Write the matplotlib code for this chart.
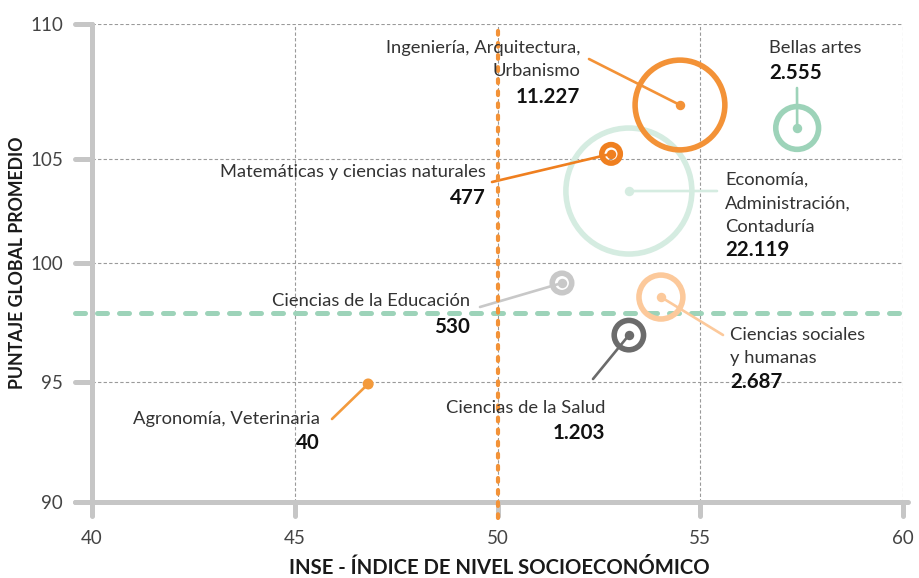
import numpy as np
import matplotlib
matplotlib.use("Agg")
import matplotlib.pyplot as plt

# ---------------- data ----------------
categories = [
    "Ingeniería, Arquitectura,\nUrbanismo",
    "Bellas artes",
    "Economía,\nAdministración,\nContaduría",
    "Matemáticas y ciencias naturales",
    "Ciencias de la Educación",
    "Ciencias sociales\ny humanas",
    "Ciencias de la Salud",
    "Agronomía, Veterinaria",
]
inse = [54.5, 57.39, 53.24, 52.8, 51.59, 54.03, 53.24, 46.81]
puntaje = [107.0, 106.15, 103.46, 105.19, 99.16, 98.57, 96.97, 94.92]
graduados = [11227, 2555, 22119, 477, 530, 2687, 1203, 40]
colors = ["#f39237", "#9dd3b9", "#d5ece1", "#ef7f1f", "#c8c8c8", "#fcc99b", "#6b6b6b", "#f39a3c"]

ref_inse = 50.0
ref_puntaje = 97.9

x_ticks = [40, 45, 50, 55, 60]
y_ticks = [90, 95, 100, 105, 110]

# ---------------- layout ----------------
W, H = 919, 578
fig = plt.figure(figsize=(W / 100, H / 100), dpi=100)
ax = fig.add_axes([92 / W, (H - 502) / H, (903 - 92) / W, (502 - 24) / H])

# piecewise-linear vertical scale (as in the original graphic)
y_pos = [0, 120, 239, 343, 478]


def fwd(v):
    return np.interp(np.asarray(v, dtype=float), y_ticks, y_pos)


def inv(p):
    return np.interp(np.asarray(p, dtype=float), y_pos, y_ticks)


ax.set_yscale("function", functions=(fwd, inv))
ax.set_xlim(40, 60)
ax.set_ylim(90, 110)

for s in ax.spines.values():
    s.set_visible(False)

ax.set_xticks(x_ticks)
ax.set_yticks(y_ticks)
ax.set_xticklabels([str(t) for t in x_ticks])
ax.set_yticklabels([str(t) for t in y_ticks])
ax.yaxis.set_minor_locator(matplotlib.ticker.NullLocator())
ax.tick_params(axis="both", length=0, labelsize=13.5, labelcolor="#444444")
ax.tick_params(axis="y", pad=21)
ax.tick_params(axis="x", pad=20)
for lab in ax.get_xticklabels() + ax.get_yticklabels():
    lab.set_fontfamily("Lato")

ax.grid(True, color="#9a9a9a", linestyle=(0, (3, 2)), linewidth=0.8, zorder=0)
ax.set_axisbelow(True)

gray = "#c6c6c6"
lwax = 3.6
ytr = ax.get_yaxis_transform()
xtr = ax.get_xaxis_transform()
# axes lines
ax.plot([0, 0], [-0.028, 1.0], transform=ax.transAxes, color=gray, lw=lwax,
        solid_capstyle="round", clip_on=False, zorder=3)
ax.plot([-0.021, 1.006], [0, 0], transform=ax.transAxes, color=gray, lw=lwax,
        solid_capstyle="round", clip_on=False, zorder=3)
for t in y_ticks:
    ax.plot([-0.021, 0], [t, t], transform=ytr, color=gray, lw=lwax,
            solid_capstyle="round", clip_on=False, zorder=3)
for t in x_ticks:
    ax.plot([t, t], [-0.03, 0], transform=xtr, color=gray, lw=lwax,
            solid_capstyle="round", clip_on=False, zorder=3)

# reference lines
ax.plot([-0.021, 1.0], [ref_puntaje, ref_puntaje], transform=ytr, color="#9dd3b9",
        lw=3.6, linestyle=(0, (2.0, 2.4)), dash_capstyle="round", clip_on=False, zorder=2)

# bubbles
k = 0.372  # area in pt^2 per graduate
order = [2, 0, 1, 3, 4, 5, 6, 7]
for i in order:
    ax.scatter([inse[i]], [puntaje[i]], s=graduados[i] * k, facecolors="none",
               edgecolors=colors[i], linewidths=4.0, zorder=4, clip_on=False)
    ax.plot([inse[i]], [puntaje[i]], "o", color=colors[i], markersize=6.8,
            markeredgewidth=0, zorder=5, clip_on=False)

# leader lines (figure pixel end points)
leader_end = [(589, 59), (797, 88), (717, 191), (492, 182), (480, 307),
              (723, 335), (593, 379), (332, 419)]
for i, (px, py) in enumerate(leader_end):
    ax.annotate("", xy=(inse[i], puntaje[i]), xycoords="data",
                xytext=(px, H - py), textcoords="figure pixels",
                arrowprops=dict(arrowstyle="-", color=colors[i], lw=1.9,
                                shrinkA=0, shrinkB=0), zorder=5)

# labels: (x px, first line y px, ha, number y px)
label_layout = [
    (580, 48, "right", 97),
    (769, 48, "left", 73),
    (725, 180, "left", 250),
    (486, 172, "right", 198),
    (470, 301, "right", 327),
    (730, 335, "left", 382),
    (605, 408, "right", 433),
    (320, 419, "right", 443),
]
line_h = 23.5
for i, (lx, ly, ha, ny) in enumerate(label_layout):
    for j, line in enumerate(categories[i].split("\n")):
        fig.text(lx / W, 1 - (ly + j * line_h) / H, line, ha=ha, va="center",
                 fontsize=13.2, family="Lato", color="#333333", zorder=6)
    num = f"{graduados[i]:,}".replace(",", ".")
    fig.text(lx / W, 1 - ny / H, num, ha=ha, va="center", fontsize=14.8,
             family="Lato", fontweight="bold", color="#111111", zorder=6)

# orange vertical reference line (on top)
ax.plot([ref_inse, ref_inse], [-0.033, 1.0], transform=xtr, color="#f39237", lw=3.0,
        linestyle=(0, (0.9, 2.0)), dash_capstyle="round", clip_on=False, zorder=7)

# axis titles
fig.text(18 / W, 1 - 263 / H, "PUNTAJE GLOBAL PROMEDIO", rotation=90, ha="center",
         va="center", fontsize=12.8, family="Lato", fontweight="bold", color="#1a1a1a")
fig.text(499 / W, 1 - 568 / H, "INSE - ÍNDICE DE NIVEL SOCIOECONÓMICO", ha="center",
         va="center", fontsize=14.6, family="Lato", fontweight="bold", color="#1a1a1a")

fig.savefig("out.png", dpi=100)
